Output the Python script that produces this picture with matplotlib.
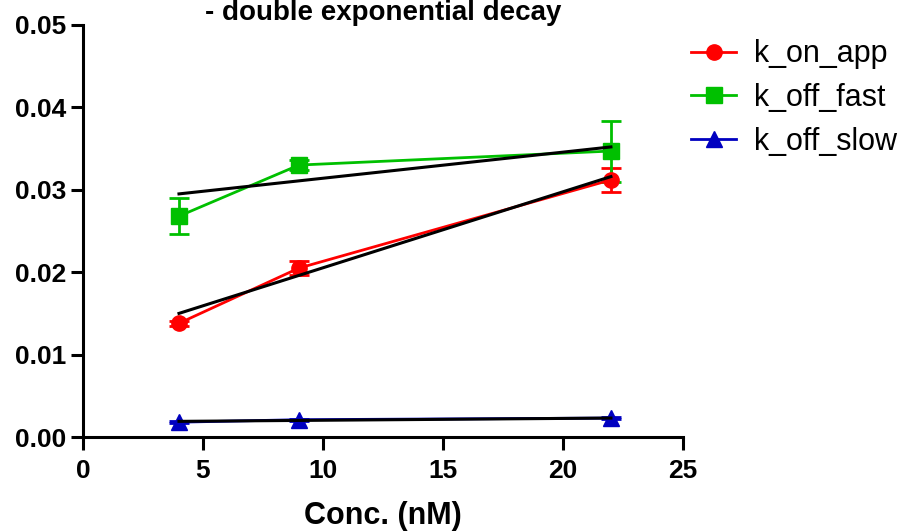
import numpy as np
import matplotlib.pyplot as plt

plt.rcParams['font.family'] = ['Liberation Sans', 'DejaVu Sans']

# concentrations (nM)
conc = [4, 9, 22]

# rate constants and their error bars
k_on_app = [0.0138, 0.0205, 0.0312]
k_on_app_err = [0.0003, 0.0008, 0.0015]
k_off_fast = [0.0268, 0.0330, 0.0347]
k_off_fast_err = [0.0022, 0.0006, 0.0037]
k_off_slow = [0.0018, 0.0021, 0.0023]
k_off_slow_err = [0.0001, 0.0001, 0.0001]

# linear fit lines (end points at x = 4 and x = 22)
fit_x = [4, 22]
fit_on = [0.0150, 0.0316]
fit_fast = [0.0295, 0.0352]
fit_slow = [0.0019, 0.0023]

fig = plt.figure(figsize=(9.09, 5.31), dpi=100)
ax = fig.add_axes([0.0913, 0.177, 0.66, 0.776])

series = [
    ('k_on_app', k_on_app, k_on_app_err, '#ff0000', 'o'),
    ('k_off_fast', k_off_fast, k_off_fast_err, '#00c000', 's'),
    ('k_off_slow', k_off_slow, k_off_slow_err, '#0000c0', '^'),
]
handles, labels = [], []
for label, y, err, col, mk in series:
    eb = ax.errorbar(conc, y, yerr=err, color=col, marker=mk, markersize=11,
                     linewidth=2, elinewidth=2, capsize=7, capthick=2,
                     clip_on=False, zorder=3)
    handles.append(eb.lines[0])
    labels.append(label)

for fy in (fit_on, fit_fast, fit_slow):
    ax.plot(fit_x, fy, color='black', linewidth=2.2, zorder=4)

ax.set_xlim(0, 25)
ax.set_ylim(0, 0.05)
ax.set_xticks([0, 5, 10, 15, 20, 25])
ax.set_yticks([0, 0.01, 0.02, 0.03, 0.04, 0.05])
ax.yaxis.set_major_formatter(plt.FormatStrFormatter('%.2f'))

for s in ('top', 'right'):
    ax.spines[s].set_visible(False)
for s in ('left', 'bottom'):
    ax.spines[s].set_linewidth(2.2)
ax.tick_params(width=2.2, length=9, labelsize=19)
ax.tick_params(axis='x', pad=7)
ax.tick_params(axis='y', pad=3)
for t in ax.get_xticklabels() + ax.get_yticklabels():
    t.set_fontweight('bold')

ax.set_xlabel('Conc. (nM)', fontsize=22, fontweight='bold', labelpad=13)
fig.text(0.421, 1.0, '- double exponential decay', ha='center', va='top',
         fontsize=20, fontweight='bold')

ax.legend(handles, labels, loc='upper left', bbox_to_anchor=(1.004, 0.98),
          frameon=False, fontsize=22, handlelength=1.45, handletextpad=0.6,
          labelspacing=0.45, borderaxespad=0.0, borderpad=0.2)

fig.savefig('out.png', dpi=100)
